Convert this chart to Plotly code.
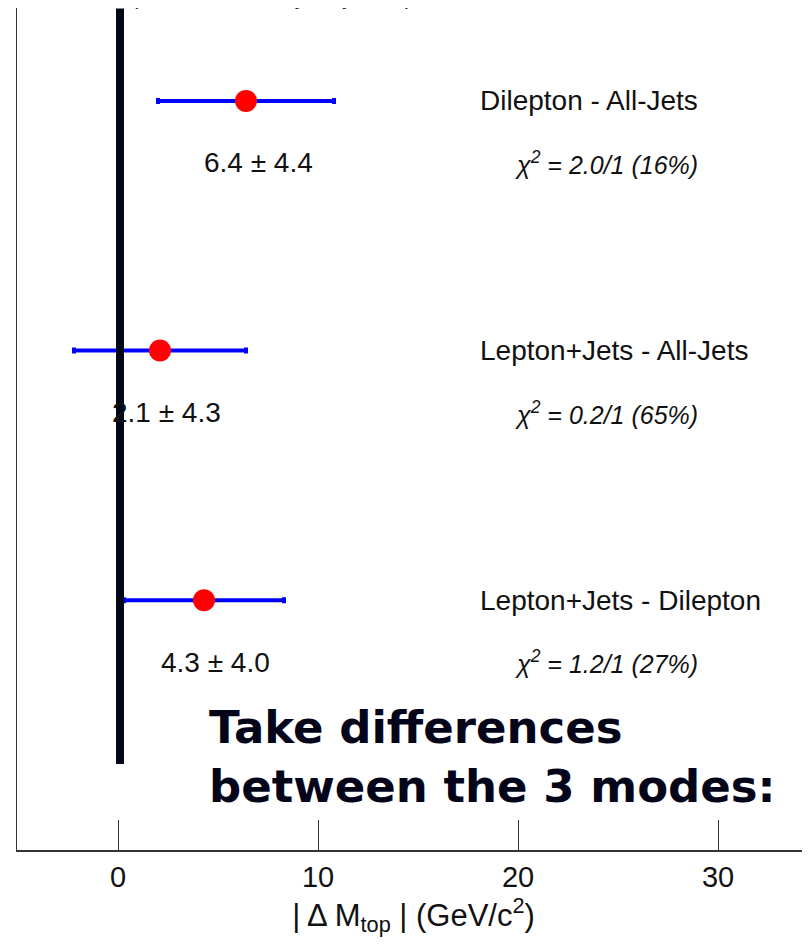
import plotly.graph_objects as go

# ---- data ----
pairs = ["Dilepton - All-Jets", "Lepton+Jets - All-Jets", "Lepton+Jets - Dilepton"]
delta_m = [6.4, 2.1, 4.3]
delta_err = [4.4, 4.3, 4.0]
chi2_text = ["2.0/1 (16%)", "0.2/1 (65%)", "1.2/1 (27%)"]
row_pos = [3, 2, 1]
x_ticks = [0, 10, 20, 30]
zero_line_x = 0.1

FONT = "Liberation Sans Narrow, Arial Narrow, Liberation Sans, Arial, sans-serif"
TXT = "#111111"

fig = go.Figure()

fig.add_trace(go.Scatter(
    x=delta_m, y=row_pos, mode="markers",
    marker=dict(color="#ff0000", size=22, line=dict(width=0)),
    error_x=dict(type="data", array=delta_err, color="#0000ff", thickness=4, width=3),
    showlegend=False, hoverinfo="skip",
))

# thick reference line
fig.add_shape(type="line", xref="x", yref="y", x0=zero_line_x, x1=zero_line_x,
              y0=0.344, y1=3.37, line=dict(color="#020818", width=8), layer="above")

annotations = []
label_shift = [12, 6, 11]
for i, name in enumerate(pairs):
    annotations.append(dict(x=delta_m[i], y=row_pos[i], xref="x", yref="y",
                            text=f"{delta_m[i]:.1f} ± {delta_err[i]:.1f}",
                            showarrow=False, xanchor="center", yanchor="middle",
                            xshift=label_shift[i], yshift=-62,
                            font=dict(family=FONT, size=28, color=TXT)))
    annotations.append(dict(x=18.0, y=row_pos[i], xref="x", yref="y", text=name,
                            showarrow=False, xanchor="left", yanchor="middle",
                            font=dict(family=FONT, size=28, color=TXT)))
    annotations.append(dict(x=19.75, y=row_pos[i], xref="x", yref="y",
                            text=f"<i>χ<sup>2</sup> = {chi2_text[i]}</i>",
                            showarrow=False, xanchor="left", yanchor="middle", yshift=-62,
                            font=dict(family=FONT, size=25, color=TXT)))

annotations.append(dict(x=0.323, y=1.0, xref="paper", yref="paper",
                        text="<i>(Run II Preliminary, July 2004)</i>", showarrow=False,
                        xanchor="center", yanchor="bottom", yshift=-3,
                        font=dict(family=FONT, size=21, color=TXT)))

annotations.append(dict(x=4.45, y=0.372, xref="x", yref="y",
                        text="<b>Take differences<br>between the 3 modes:</b>",
                        showarrow=False, xanchor="left", yanchor="middle", align="left",
                        font=dict(family="DejaVu Sans, sans-serif", size=45, color="#05051a")))

fig.update_layout(
    width=802, height=942,
    margin=dict(l=9, r=0, t=0, b=100),
    paper_bgcolor="white", plot_bgcolor="white",
    annotations=annotations,
    xaxis=dict(range=[-5.05, 34.6], tickvals=x_ticks, ticks="inside", ticklen=30,
               tickwidth=1, tickcolor="#333333", showgrid=False, zeroline=False,
               showline=True, linecolor="#333333", linewidth=2,
               tickfont=dict(family=FONT, size=29, color=TXT),
               title=dict(text="| Δ M<sub>top</sub> | (GeV/c<sup>2</sup>)",
                          font=dict(family=FONT, size=31, color=TXT), standoff=4)),
    yaxis=dict(range=[0, 3.372], showticklabels=False, ticks="", showgrid=False,
               zeroline=False, showline=True, linecolor="#333333", linewidth=1),
)

fig.write_html("out.html")
